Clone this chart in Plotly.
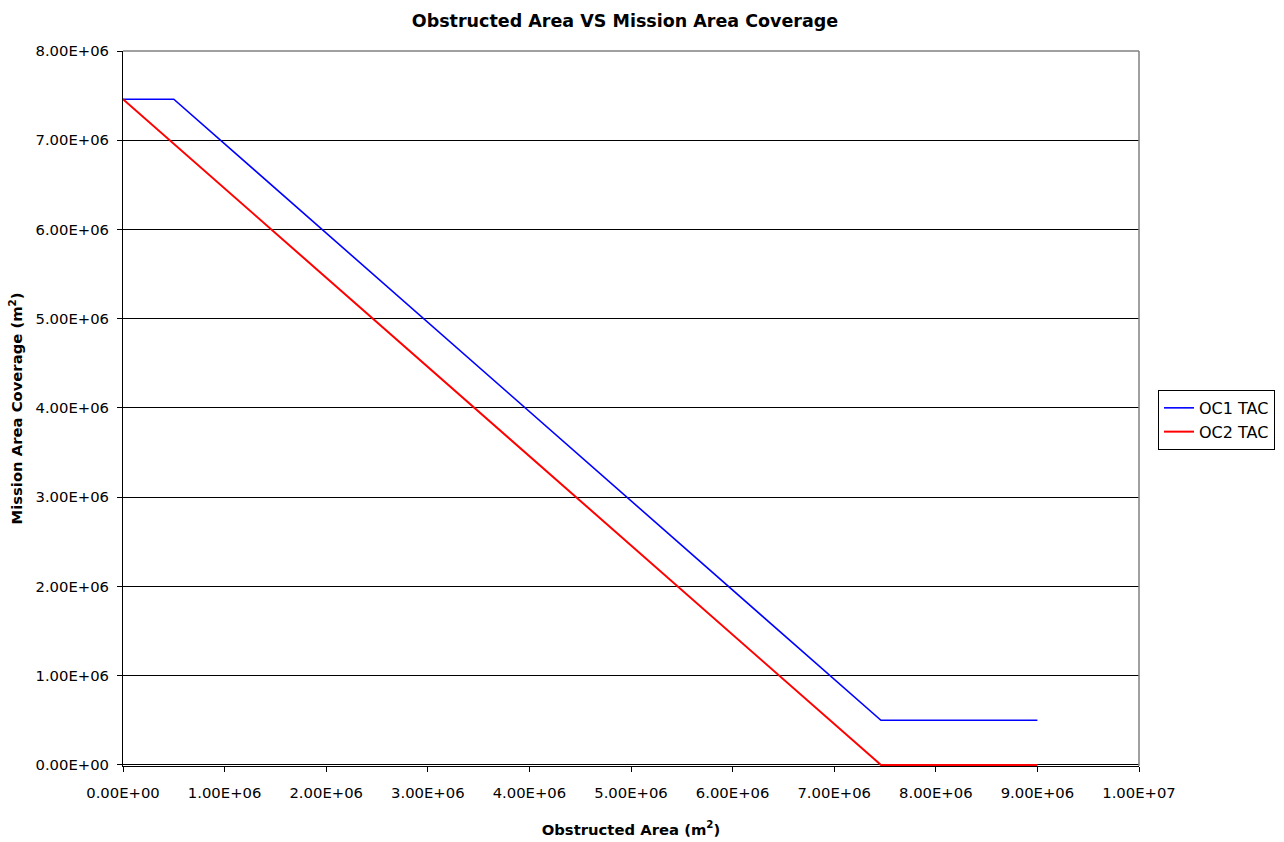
import plotly.graph_objects as go

# Obstructed area (m^2) and resulting mission area coverage (m^2)
oc1_x = [0.0, 0.5e6, 7.46e6, 9.0e6]
oc1_y = [7.46e6, 7.46e6, 0.5e6, 0.5e6]
oc2_x = [0.0, 7.46e6, 9.0e6]
oc2_y = [7.46e6, 0.0, 0.0]

x_ticks = [i * 1e6 for i in range(11)]
x_labels = ["0.00E+00", "1.00E+06", "2.00E+06", "3.00E+06", "4.00E+06", "5.00E+06",
            "6.00E+06", "7.00E+06", "8.00E+06", "9.00E+06", "1.00E+07"]
y_ticks = [i * 1e6 for i in range(9)]
y_labels = ["0.00E+00", "1.00E+06", "2.00E+06", "3.00E+06", "4.00E+06", "5.00E+06",
            "6.00E+06", "7.00E+06", "8.00E+06"]

FONT = "DejaVu Sans"
TICK_SIZE = 14.8

fig = go.Figure()
fig.add_trace(go.Scatter(x=oc1_x, y=oc1_y, mode="lines", name="OC1 TAC",
                         line=dict(color="#0000FF", width=1.6)))
fig.add_trace(go.Scatter(x=oc2_x, y=oc2_y, mode="lines", name="OC2 TAC",
                         line=dict(color="#FF0000", width=2)))

fig.update_layout(
    width=1284, height=842,
    margin=dict(l=123, r=145, t=51, b=76, autoexpand=False),
    paper_bgcolor="white", plot_bgcolor="white",
    font=dict(family=FONT, size=TICK_SIZE, color="black"),
    title=dict(text="<b>Obstructed Area VS Mission Area Coverage</b>",
               x=(625 / 1284), xanchor="center", y=1 - 21 / 842, yanchor="middle",
               font=dict(family=FONT, size=17.5, color="black")),
    showlegend=True,
    legend=dict(x=(1158 - 123) / 1016, xanchor="left", y=0.484, yanchor="middle",
                bordercolor="black", borderwidth=1, bgcolor="white",
                font=dict(family=FONT, size=16, color="black"),
                tracegroupgap=0),
    xaxis=dict(range=[0, 1e7], tickmode="array", tickvals=x_ticks, ticktext=x_labels,
               showgrid=False, zeroline=False, showline=True, linecolor="black",
               linewidth=1, ticks="outside", ticklen=5, tickcolor="black",
               ticklabelstandoff=8, layer="below traces", automargin=False,
               title=dict(text="<b>Obstructed Area (m<sup>2</sup>)</b>",
                          font=dict(family=FONT, size=TICK_SIZE), standoff=24)),
    # lower bound sits a hair under zero so the flat OC2 segment stays fully visible
    yaxis=dict(range=[-0.012e6, 8e6], tickmode="array", tickvals=y_ticks, ticktext=y_labels,
               showgrid=True, gridcolor="black", gridwidth=1, zeroline=False,
               showline=True, linecolor="black", linewidth=1, ticks="outside",
               ticklen=5, tickcolor="black", ticklabelstandoff=5, layer="below traces",
               automargin=False,
               title=dict(text="<b>Mission Area Coverage (m<sup>2</sup>)</b>",
                          font=dict(family=FONT, size=TICK_SIZE), standoff=9)),
)

# Gray plot-area border on the top and right sides
fig.add_shape(type="line", xref="paper", yref="paper", x0=0, x1=1, y0=1, y1=1,
              line=dict(color="#808080", width=1.5), layer="above")
fig.add_shape(type="line", xref="paper", yref="paper", x0=1, x1=1, y0=0, y1=1,
              line=dict(color="#808080", width=1.5), layer="above")

fig.write_html("out.html")
